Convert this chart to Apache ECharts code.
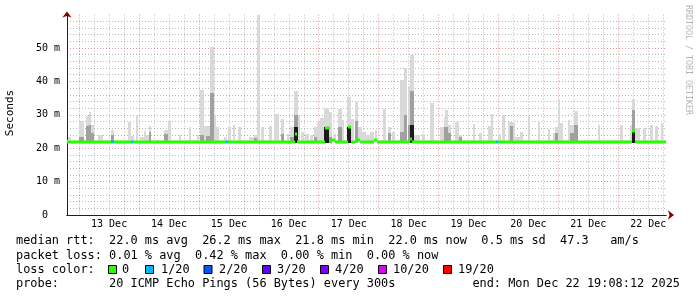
<!DOCTYPE html>
<html><head><meta charset="utf-8">
<script src="https://cdn.jsdelivr.net/npm/echarts@6/dist/echarts.min.js"></script>
<style>html,body{margin:0;padding:0;background:#fff}#c{width:697px;height:297px}</style>
</head><body><div id="c"></div>
<script>
// ---- time frame (hours since Dec 12 00:00) ----
const startHour = 19.136;   // Dec 12 19:08:12
const endHour = 259.136;    // Dec 22 19:08:12
const dayLabels = ['13 Dec','14 Dec','15 Dec','16 Dec','17 Dec','18 Dec','19 Dec','20 Dec','21 Dec','22 Dec'];
const dayMidnights = [24,48,72,96,120,144,168,192,216,240];
const yTickLabels = ['0  ','10 m','20 m','30 m','40 m','50 m',''];

// ---- smoke (ping spread), offsets in hours from graph start, values in ms ----
const spikeOffset = [0.5,5,7.5,8.7,9.7,12.5,17.5,24.6,25.6,27.6,29.2,30.9,31.7,32.7,39,40.4,44.7,48.7,51.9,53.2,54.7,55.7,57.3,58.8,59.7,63,64.7,66.5,68.7,72.9,74.9,76.3,77.6,80.9,82.9,85.6,88.3,89.2,90.9,92.5,93.6,95.3,97.3,98.9,100.3,101.3,103,104.9,106.9,108.7,110,112.3,113.6,115.3,116.7,118.3,119.6,121.6,123.3,126.7,128.7,130.3,133.5,134.9,136.5,137.6,139,142.3,145.6,149.6,150.9,151.6,152.7,155.3,156.9,162.5,164.9,168.7,169.7,172.7,174.3,176.7,177.5,178.8,179.6,181.6,184.7,188.7,192.7,194.9,195.6,196.6,197.6,200.7,201.7,203.3,212.7,221.6,225.6,226.5,227.6,230.9,233.6,235.6,237.9];
const spikeLen = [1,2,1.2,1,1,2,1.4,1,1.4,1,1.7,0.8,1,1,1.4,1.2,1,1,1,1.5,1,1.6,1.5,0.9,1.2,1,1,1,1,2,1.4,1.2,1.3,1.4,2,1.3,0.8,1.6,1.6,1,1.3,1.6,1.2,1.4,1,1.6,2,1.4,0.8,1.3,0.9,1.3,1.3,1.4,1.6,1.3,2,1.3,1,1,1,1.3,1.4,1.4,1,1.3,2.5,1.3,1.3,1.3,0.7,1.1,1,1.6,1.3,1,1.3,1,1.1,1.3,1.3,0.8,1.3,0.8,2,1.3,1,1,1,0.7,1,1,1,1,1.3,1.6,1,1,1,1.1,2,1,1.3,1.3,1];
const spikeMax = [23.4,28.1,29.6,30.8,26.9,23.9,25.4,27.9,23.7,29.9,23.5,25.2,24,26.6,25.3,28.1,24,26.3,24,37.4,26.6,26.6,50.4,29.9,26.3,23.4,26.3,26.9,26.3,23.4,24,59.9,26.3,26.5,30.2,28.7,24.3,26.3,37.1,30,25,24.3,24,26.3,27.9,29.1,32.1,30.8,24.3,31.8,28.4,35.2,28.7,33.9,26.3,24.8,24,25,25.4,31.8,26.3,25,40.4,43.9,38.6,48,24,24.3,33.6,26.3,29.4,31.4,26.9,27.9,24,27.2,24.5,26.6,30.1,24.3,30,27.9,27.9,27.4,23.5,25,29.6,27.9,25.7,24.5,26.3,34.7,27.4,28.4,26.9,31.1,26.9,26.9,26.9,34.7,26,26,26.9,26.6,27.4];
const spikeMid = [0,23.5,26.6,26.9,24.5,0,24,0,0,0,0,0,0,25,24.3,0,0,0,0,24,0,23.8,36.5,0,0,0,0,0,0,0,23.2,0,0,0,0,24.3,0,23.5,30,0,0,0,0,23.5,0,0,0,23.5,0,26.3,0,0,0,28,0,0,0,0,0,0,24.5,0,25,30,26.9,37,0,0,0,0,26.3,26.3,24.5,0,23.5,0,0,0,0,0,0,0,26.6,0,0,0,0,0,0,0,24.5,0,0,0,24.5,26.9,0,0,0,31.4,0,0,0,0,0];
const spikeDark = [0,0,0,0,0,0,0,0,0,0,0,0,0,0,0,0,0,0,0,0,0,0,0,0,0,0,0,0,0,0,0,0,0,0,0,0,0,0,26.4,0,0,0,0,0,0,0,26.3,0,0,0,0,26.3,0,0,0,0,0,0,0,0,0,0,0,0,0,27,0,0,0,0,0,0,0,0,0,0,0,0,0,0,0,0,0,0,0,0,0,0,0,0,0,0,0,0,0,0,0,0,0,25.2,0,0,0,0,0];
const smokeFloor = 21.7;
const baseSmokeTop = 22.6;

// ---- median rtt segments (offsets in hours from start) and loss class ----
const medianFrom  = [0,17.6,18.7,25.7,26.5,63.6,64.7,91.3,92.3,103.5,105.2,106,107.2,112.5,113.6,115.2,117.2,123.2,124.4,137.2,138.4,171.7,172.7,226.5,227.6];
const medianTo    = [17.6,18.7,25.7,26.5,63.6,64.7,91.3,92.3,103.5,105.2,106,107.2,112.5,113.6,115.2,117.2,123.2,124.4,137.2,138.4,171.7,172.7,226.5,227.6,240];
const medianValue = [22.0,22.0,22.0,22.0,22.0,22.0,22.0,24.3,22.0,26.1,22.0,22.6,22.0,26.2,22.0,22.5,22.0,22.6,22.0,22.7,22.0,22.0,22.0,25.2,22.0];
const medianLoss  = [0,1,0,1,0,1,0,0,0,0,0,0,0,0,0,0,0,0,0,0,0,1,0,0,0];

// ---- legend ----
const lossLabels = ['0','1/20','2/20','3/20','4/20','10/20','19/20'];
const lossColors = ['#26ff00','#00b8ff','#0059ff','#5e00ff','#7e00ff','#dd00ff','#ff0000'];
const statRows = [
  'median rtt:  22.0 ms avg  26.2 ms max  21.8 ms min  22.0 ms now  0.5 ms sd  47.3   am/s',
  'packet loss: 0.01 % avg  0.42 % max  0.00 % min  0.00 % now',
  'loss color:',
  'probe:       20 ICMP Echo Pings (56 Bytes) every 300s'
];
const endText = 'end: Mon Dec 22 19:08:12 2025';
const yAxisTitle = 'Seconds';
const watermark = 'RRDTOOL / TOBI OETIKER';

// ---------------------------------------------------------------
const MONO = 'DejaVu Sans Mono';
const LFONT = '11.9px ' + MONO;
const dayNoons = dayMidnights.map(m => m + 12);
const sixHourMarks = [];
dayMidnights.concat([0]).forEach(m => [6,12,18].forEach(o => {const v=m+o; if(v>startHour && v<endHour) sixHourMarks.push(v);}));

const smokeData = spikeOffset.map((o,i)=>[startHour+o, startHour+o+spikeLen[i], spikeMax[i], spikeMid[i], spikeDark[i]]);
const baseData = [[startHour, endHour, baseSmokeTop, 0, 0]];
const medianData = medianFrom.map((f,i)=>[startHour+f, startHour+medianTo[i], medianValue[i], medianLoss[i]]);

function smokeItem(params, api){
  const t0 = api.value(0), t1 = api.value(1);
  const levels = [[api.value(2),'#d9d9d9'],[api.value(3),'#a0a0a0'],[api.value(4),'#1a1a1a']];
  const children = [];
  levels.forEach(([top,color])=>{
    if(!top) return;
    const p0 = api.coord([t0, top]);
    const p1 = api.coord([t1, smokeFloor]);
    const x0 = Math.round(p0[0]), x1 = Math.max(Math.round(p1[0]), x0+1);
    children.push({type:'rect', shape:{x:x0, y:Math.round(p0[1]), width:x1-x0, height:Math.round(p1[1])-Math.round(p0[1])}, style:{fill:color}});
  });
  return {type:'group', children};
}
function baseItem(params, api){
  const p0 = api.coord([api.value(0), api.value(2)]);
  const p1 = api.coord([api.value(1), smokeFloor]);
  return {type:'rect', shape:{x:p0[0], y:Math.round(p0[1]), width:p1[0]-p0[0], height:Math.round(p1[1])-Math.round(p0[1])}, style:{fill:'#e8e8e8'}};
}
function medianItem(params, api){
  const p0 = api.coord([api.value(0), api.value(2)]);
  const p1 = api.coord([api.value(1), api.value(2)]);
  const x0 = Math.round(p0[0]), x1 = Math.round(p1[0]);
  return {type:'rect', shape:{x:x0, y:Math.round(p0[1])-1.5, width:Math.max(x1-x0,1), height:3}, style:{fill:lossColors[api.value(3)]}};
}

const gridMinor = 'rgba(130,130,130,0.55)';
const gridMajor = 'rgba(205,60,60,0.55)';
const arrowColor = '#8a0000';
const axisColor = '#202020';

const graphic = [];
const rowY = [241, 255.5, 269.5, 284];
statRows.forEach((r,i)=>graphic.push({type:'text', x:16, y:rowY[i], style:{text:r, font:LFONT, fill:'#000', textVerticalAlign:'middle'}}));
graphic.push({type:'text', x:680, y:rowY[3], style:{text:endText, font:LFONT, fill:'#000', textAlign:'right', textVerticalAlign:'middle'}});
const boxX = [108,145,203.5,262,320,378,443];
const labX = [122,161,219,277,335,393,458];
lossLabels.forEach((l,i)=>{
  graphic.push({type:'rect', shape:{x:boxX[i]+0.5, y:265.5, width:8, height:8}, style:{fill:lossColors[i], stroke:'#000', lineWidth:1}});
  graphic.push({type:'text', x:labX[i], y:rowY[2], style:{text:l, font:LFONT, fill:'#000', textVerticalAlign:'middle'}});
});
graphic.push({type:'text', x:10, y:113, rotation:Math.PI/2, style:{text:yAxisTitle, font:'11px '+MONO, fill:'#000', textAlign:'center', textVerticalAlign:'middle'}});
graphic.push({type:'text', x:688, y:5, rotation:-Math.PI/2, style:{text:watermark, font:'8.3px '+MONO, fill:'#b4b4b4', textAlign:'left', textVerticalAlign:'middle'}});

const chart = echarts.init(document.getElementById('c'), null, {renderer:'canvas'});
chart.setOption({
  animation:false,
  backgroundColor:'#ffffff',
  grid:{left:67, right:31, top:14.6, bottom:82, containLabel:false, outerBoundsMode:'none'},
  xAxis:[
    { // arrow + 6h minor grid
      type:'value', min:startHour, max:endHour, position:'bottom', z:0,
      axisLine:{show:true, lineStyle:{color:arrowColor, width:1}, symbol:['none','arrow'], symbolSize:[7,6], symbolOffset:[0,8]},
      axisTick:{show:false, customValues:sixHourMarks},
      axisLabel:{show:false},
      splitLine:{show:true, lineStyle:{color:gridMinor, type:[1,2], width:1}}
    },
    { // main axis: day grid + labels
      type:'value', min:startHour, max:endHour, position:'bottom', z:1,
      axisLine:{show:true, lineStyle:{color:axisColor, width:1}},
      axisTick:{show:false, customValues:dayMidnights},
      axisLabel:{show:true, customValues:dayNoons, margin:4, fontFamily:MONO, fontSize:10, color:'#000',
        formatter:v=>{const i=dayNoons.indexOf(v); return i>=0?dayLabels[i]:'';}},
      splitLine:{show:true, lineStyle:{color:gridMajor, type:[1,2], width:1}}
    }
  ],
  yAxis:[
    { // main
      type:'value', min:0, max:60, interval:10, position:'left', z:1,
      axisLine:{show:true, lineStyle:{color:axisColor, width:1}},
      axisTick:{show:false},
      axisLabel:{margin:7, fontFamily:MONO, fontSize:10, color:'#000', formatter:(v)=>yTickLabels[Math.round(v/10)]},
      splitLine:{show:true, lineStyle:{color:[gridMajor,gridMajor,gridMajor,gridMajor,gridMajor,gridMajor,'rgba(0,0,0,0)'], type:[1,2], width:1}},
      minorTick:{show:false, splitNumber:5},
      minorSplitLine:{show:true, lineStyle:{color:gridMinor, type:[1,2], width:1}}
    },
    { // arrow only
      type:'value', min:0, max:60, interval:10, position:'left', z:0,
      axisLine:{show:true, lineStyle:{color:arrowColor, width:1}, symbol:['none','arrow'], symbolSize:[7,6], symbolOffset:[0,3]},
      axisTick:{show:false}, axisLabel:{show:false}, splitLine:{show:false}
    }
  ],
  series:[
    {type:'custom', name:'base', xAxisIndex:1, yAxisIndex:0, renderItem:baseItem, data:baseData, encode:{x:[0,1], y:2}, z:2, silent:true},
    {type:'custom', name:'smoke', xAxisIndex:1, yAxisIndex:0, renderItem:smokeItem, data:smokeData, encode:{x:[0,1], y:[2,3,4]}, z:3, silent:true},
    {type:'custom', name:'median', xAxisIndex:1, yAxisIndex:0, renderItem:medianItem, data:medianData, encode:{x:[0,1], y:2}, z:4, silent:true}
  ],
  graphic:graphic
});
</script></body></html>
